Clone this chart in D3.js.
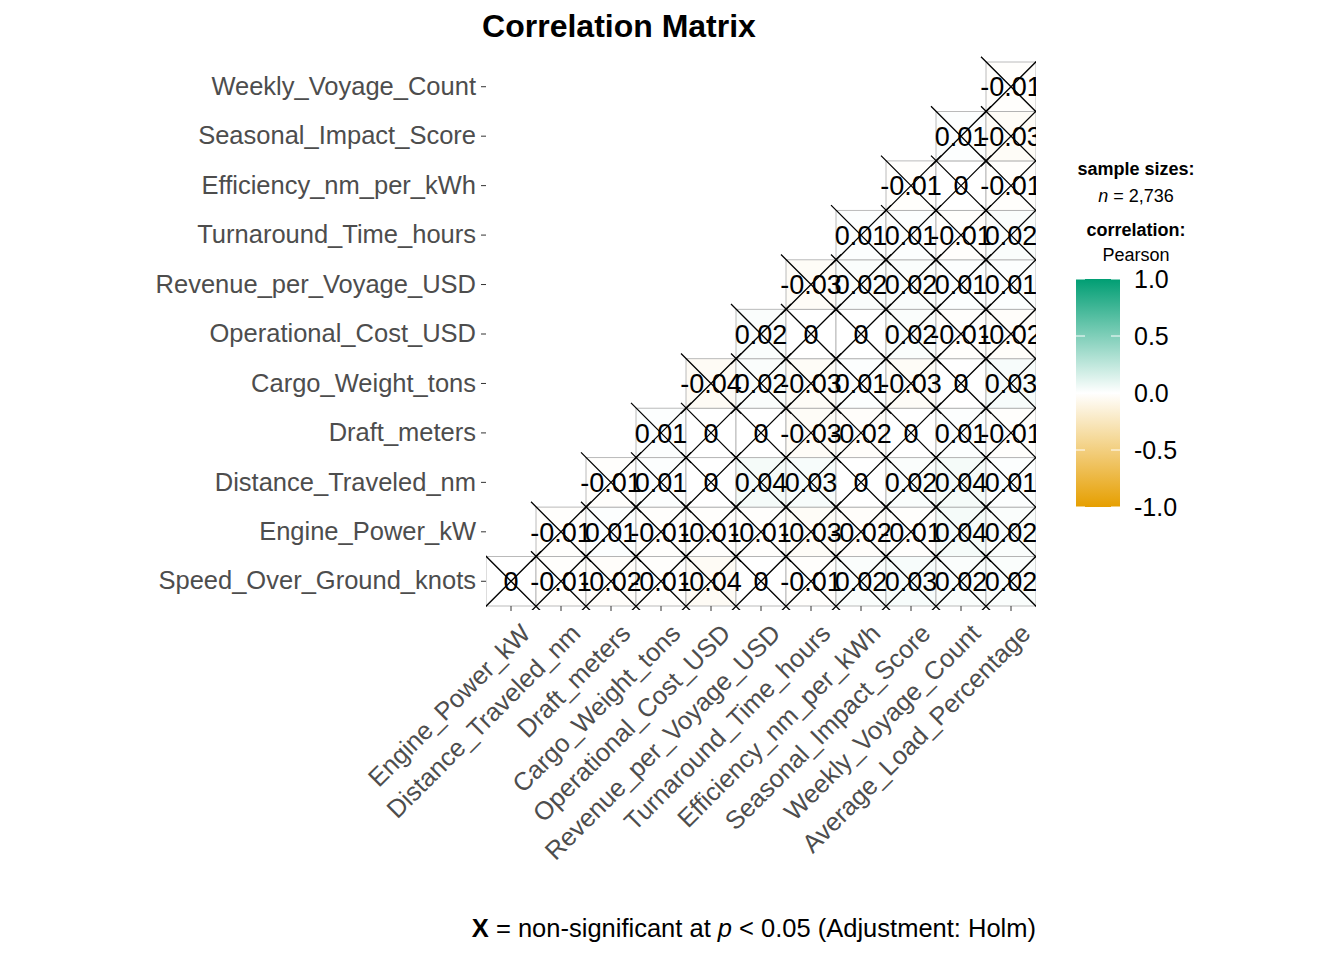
<!DOCTYPE html>
<html><head><meta charset="utf-8">
<script src="https://cdn.jsdelivr.net/npm/d3@7"></script>
<style>body{margin:0;background:#fff;font-family:"Liberation Sans",Arial,sans-serif}</style>
</head><body><div id="chart"></div>
<script>
const xVars = ["Engine_Power_kW","Distance_Traveled_nm","Draft_meters","Cargo_Weight_tons","Operational_Cost_USD","Revenue_per_Voyage_USD","Turnaround_Time_hours","Efficiency_nm_per_kWh","Seasonal_Impact_Score","Weekly_Voyage_Count","Average_Load_Percentage"];
const yVars = ["Speed_Over_Ground_knots","Engine_Power_kW","Distance_Traveled_nm","Draft_meters","Cargo_Weight_tons","Operational_Cost_USD","Revenue_per_Voyage_USD","Turnaround_Time_hours","Efficiency_nm_per_kWh","Seasonal_Impact_Score","Weekly_Voyage_Count"];
// row r starts at column r
const rowValues = [
  [0,-0.01,-0.02,-0.01,-0.04,0,-0.01,0.02,0.03,0.02,0.02],
  [-0.01,0.01,-0.01,-0.01,-0.01,-0.03,-0.02,-0.01,0.04,0.02],
  [-0.01,0.01,0,0.04,0.03,0,0.02,0.04,0.01],
  [0.01,0,0,-0.03,-0.02,0,0.01,-0.01],
  [-0.04,0.02,-0.03,0.01,-0.03,0,0.03],
  [0.02,0,0,0.02,-0.01,-0.02],
  [-0.03,0.02,0.02,0.01,0.01],
  [0.01,0.01,-0.01,0.02],
  [-0.01,0,-0.01],
  [0.01,-0.03],
  [-0.01]
];
const legendTicks = [1.0,0.5,0.0,-0.5,-1.0];

const svg = d3.select("#chart").append("svg").attr("width",1344).attr("height",960);
const x = d3.scaleBand().domain(xVars).range([486,1036]);
const y = d3.scaleBand().domain(yVars).range([606,62]);
const color = d3.scaleLinear().domain([-1,0,1]).range(["#E69F00","#FFFFFF","#009E73"]);

const cells = [];
rowValues.forEach((vals,r)=>vals.forEach((v,k)=>cells.push({xv:xVars[r+k],yv:yVars[r],v})));

svg.append("defs").append("clipPath").attr("id","clip")
  .append("rect").attr("x",486).attr("y",50).attr("width",550).attr("height",560);
const panel = svg.append("g").attr("clip-path","url(#clip)");

panel.selectAll(".tile").data(cells).enter().append("rect")
  .attr("x",d=>x(d.xv)).attr("y",d=>y(d.yv))
  .attr("width",x.bandwidth()).attr("height",y.bandwidth())
  .attr("fill",d=>color(d.v)).attr("stroke","#aaa").attr("stroke-width",0.8);

panel.selectAll(".lab").data(cells).enter().append("text")
  .attr("x",d=>x(d.xv)+x.bandwidth()/2).attr("y",d=>y(d.yv)+y.bandwidth()/2)
  .attr("dy","0.36em").attr("text-anchor","middle")
  .style("font-size","27px").attr("fill","#000").text(d=>String(d.v));

const h = 30;
panel.selectAll(".cross").data(cells).enter().append("path")
  .attr("d",d=>{const cx=x(d.xv)+x.bandwidth()/2, cy=y(d.yv)+y.bandwidth()/2;
    return `M${cx-h},${cy-h}L${cx+h},${cy+h}M${cx-h},${cy+h}L${cx+h},${cy-h}`;})
  .attr("stroke","#000").attr("stroke-width",1.3).attr("fill","none");

// axes
const yAxis = svg.append("g").attr("transform","translate(486,0)")
  .call(d3.axisLeft(y).tickSize(5).tickPadding(5));
const xAxis = svg.append("g").attr("transform","translate(0,606)")
  .call(d3.axisBottom(x).tickSize(5).tickPadding(4));
[yAxis,xAxis].forEach(a=>{a.select(".domain").remove();
  a.selectAll("line").attr("stroke","#333");
  a.selectAll("text").style("font-size","25.5px").attr("fill","#4D4D4D").style("font-family","'Liberation Sans',Arial,sans-serif");});
xAxis.selectAll("text").attr("text-anchor","end").attr("dy","0.7em")
  .attr("transform","translate(2,10) rotate(-45)");

svg.append("text").attr("x",619).attr("y",37).attr("text-anchor","middle")
  .style("font-size","32px").style("font-weight","bold").text("Correlation Matrix");

// legend
const lg = svg.append("g");
lg.append("text").attr("x",1136).attr("y",175).attr("text-anchor","middle").style("font-size","18px").style("font-weight","bold").text("sample sizes:");
const n = lg.append("text").attr("x",1136).attr("y",202).attr("text-anchor","middle").style("font-size","18px");
n.append("tspan").style("font-style","italic").text("n");
n.append("tspan").text(" = 2,736");
lg.append("text").attr("x",1136).attr("y",236).attr("text-anchor","middle").style("font-size","18px").style("font-weight","bold").text("correlation:");
lg.append("text").attr("x",1136).attr("y",261).attr("text-anchor","middle").style("font-size","18px").text("Pearson");
const grad = svg.select("defs").append("linearGradient").attr("id","grad").attr("x1",0).attr("x2",0).attr("y1",0).attr("y2",1);
d3.range(0,1.001,0.1).forEach(t=>grad.append("stop").attr("offset",t).attr("stop-color",color(1-2*t)));
const ly = d3.scaleLinear().domain([1,-1]).range([279,507]);
lg.append("rect").attr("x",1076).attr("y",279).attr("width",44).attr("height",228).attr("fill","url(#grad)");
const la = lg.append("g").attr("transform","translate(1120,0)").call(d3.axisRight(ly).tickValues(legendTicks).tickFormat(d=>d.toFixed(1)).tickSize(0).tickPadding(14));
la.select(".domain").remove();
la.selectAll("text").style("font-size","25px").attr("fill","#000").style("font-family","'Liberation Sans',Arial,sans-serif");
legendTicks.forEach(t=>{lg.append("line").attr("x1",1076).attr("x2",1085).attr("y1",ly(t)).attr("y2",ly(t)).attr("stroke","#fff");
  lg.append("line").attr("x1",1111).attr("x2",1120).attr("y1",ly(t)).attr("y2",ly(t)).attr("stroke","#fff");});

const cap = svg.append("text").attr("x",1036).attr("y",937).attr("text-anchor","end").style("font-size","25.5px");
cap.append("tspan").style("font-weight","bold").text("X");
cap.append("tspan").text(" = non-significant at ");
cap.append("tspan").style("font-style","italic").text("p");
cap.append("tspan").text(" < 0.05 (Adjustment: Holm)");
</script></body></html>
